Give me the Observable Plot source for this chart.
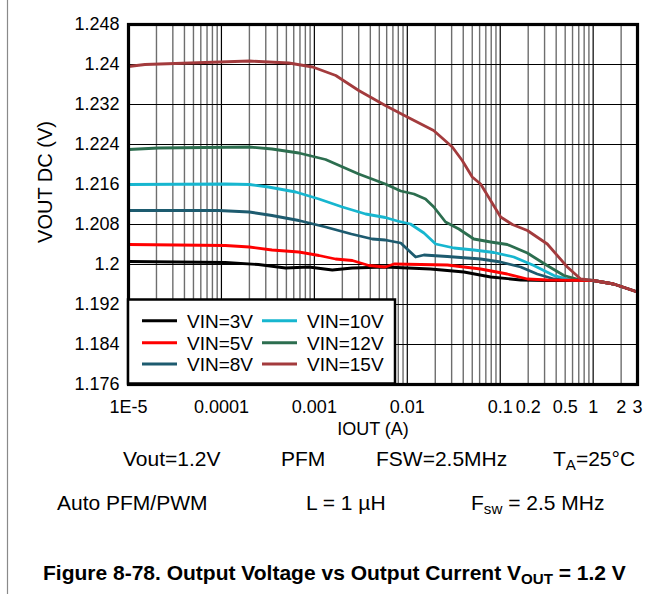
<!DOCTYPE html>
<html>
<head>
<meta charset="utf-8">
<script src="https://cdn.jsdelivr.net/npm/d3@7"></script>
<script src="https://cdn.jsdelivr.net/npm/@observablehq/plot@0.6"></script>
<style>
  html, body { margin: 0; padding: 0; background: #fff; }
  #wrap { position: relative; width: 663px; height: 594px; overflow: hidden; background: #fff;
          font-family: "Liberation Sans", Arial, Helvetica, sans-serif; }
  #wrap > svg.overlay { position: absolute; left: 0; top: 0; }
</style>
</head>
<body>
<div id="wrap"></div>
<script>
// ---------- data ----------
const seriesNames = ["VIN=3V", "VIN=5V", "VIN=8V", "VIN=10V", "VIN=12V", "VIN=15V"];
const seriesColors = ["#000000", "#ff0000", "#1d5b6f", "#17b6cf", "#2c6e4f", "#a33b3d"];

const vin3_iout = [1e-5, 1.1e-4, 2.5e-4, 4.9e-4, 8.7e-4, 1.56e-3, 2.56e-3, 5.8e-3, 0.0178, 0.0407, 0.079, 0.166, 0.32, 1.0, 1.66, 2.0, 3.0];
const vin3_vout = [1.2006, 1.2004, 1.2000, 1.1993, 1.1995, 1.1989, 1.1993, 1.1995, 1.1991, 1.1985, 1.1975, 1.1969, 1.1968, 1.1968, 1.1961, 1.1956, 1.1945];

const vin5_iout = [1e-5, 1.1e-4, 2e-4, 3.5e-4, 6.8e-4, 1.12e-3, 1.69e-3, 2.56e-3, 3.86e-3, 5.8e-3, 7.2e-3, 0.027, 0.0615, 0.119, 0.196, 0.32, 1.0, 1.66, 2.0, 3.0];
const vin5_vout = [1.2040, 1.2038, 1.2035, 1.2029, 1.2025, 1.2018, 1.2011, 1.2008, 1.1998, 1.1995, 1.2001, 1.1999, 1.1991, 1.1981, 1.1971, 1.1969, 1.1968, 1.1961, 1.1956, 1.1945];

const vin8_iout = [1e-5, 9.3e-5, 2e-4, 3.5e-4, 6.8e-4, 1.32e-3, 2.5e-3, 4.2e-3, 5.8e-3, 8.5e-3, 0.0123, 0.0151, 0.027, 0.0615, 0.101, 0.166, 0.25, 0.378, 0.6, 1.0, 1.66, 2.0, 3.0];
const vin8_vout = [1.2108, 1.2108, 1.2105, 1.2098, 1.2088, 1.2075, 1.2061, 1.2051, 1.2049, 1.2043, 1.2015, 1.2019, 1.2016, 1.2011, 1.2005, 1.1995, 1.1981, 1.1971, 1.1969, 1.1968, 1.1961, 1.1956, 1.1945];

const vin10_iout = [1e-5, 1.1e-4, 2e-4, 3.2e-4, 6.3e-4, 1.12e-3, 2.0e-3, 3.56e-3, 5.8e-3, 7.8e-3, 0.0108, 0.0151, 0.0202, 0.0318, 0.052, 0.0855, 0.14, 0.23, 0.378, 0.527, 1.0, 1.66, 2.0, 3.0];
const vin10_vout = [1.2160, 1.2161, 1.2160, 1.2155, 1.2145, 1.2131, 1.2115, 1.2101, 1.2094, 1.2087, 1.2081, 1.2063, 1.2041, 1.2033, 1.2029, 1.2024, 1.2015, 1.1998, 1.1978, 1.1971, 1.1968, 1.1961, 1.1956, 1.1945];

const vin12_iout = [1e-5, 2.1e-5, 2e-4, 3.5e-4, 6.8e-4, 1.32e-3, 3.0e-3, 5.8e-3, 8.5e-3, 0.0118, 0.0157, 0.0193, 0.0258, 0.0359, 0.052, 0.079, 0.119, 0.196, 0.32, 0.485, 0.73, 1.0, 1.66, 2.0, 3.0];
const vin12_vout = [1.2230, 1.2233, 1.2235, 1.2231, 1.2223, 1.2210, 1.2181, 1.2161, 1.2147, 1.2141, 1.2131, 1.2115, 1.2085, 1.2071, 1.2051, 1.2045, 1.2040, 1.2023, 1.1998, 1.1978, 1.1969, 1.1968, 1.1961, 1.1956, 1.1945];

const vin15_iout = [1e-5, 1.5e-5, 6.7e-5, 2e-4, 5.3e-4, 9.6e-4, 1.7e-3, 3.0e-3, 5.8e-3, 0.01, 0.0192, 0.0305, 0.039, 0.05, 0.0615, 0.101, 0.135, 0.196, 0.321, 0.527, 0.733, 1.0, 1.66, 2.0, 3.0];
const vin15_vout = [1.2396, 1.2400, 1.2404, 1.2407, 1.2403, 1.2395, 1.2378, 1.2348, 1.2318, 1.2295, 1.2268, 1.2235, 1.2208, 1.2175, 1.2161, 1.2095, 1.2080, 1.2068, 1.2041, 1.1995, 1.1971, 1.1968, 1.1961, 1.1956, 1.1945];

const xTickValues = [1e-5, 1e-4, 1e-3, 0.01, 0.1, 0.2, 0.5, 1, 2, 3];
const xTickLabels = ["1E-5", "0.0001", "0.001", "0.01", "0.1", "0.2", "0.5", "1", "2", "3"];
const yTickValues = [1.176, 1.184, 1.192, 1.2, 1.208, 1.216, 1.224, 1.232, 1.24, 1.248];
const yTickLabels = ["1.176", "1.184", "1.192", "1.2", "1.208", "1.216", "1.224", "1.232", "1.24", "1.248"];
const xMajorGrid = [1e-5, 1e-4, 1e-3, 0.01, 0.1, 1];

const xLabel = "IOUT (A)";
const yLabel = "VOUT DC (V)";

// ---------- build ----------
const allSeries = [
  [vin3_iout, vin3_vout], [vin5_iout, vin5_vout], [vin8_iout, vin8_vout],
  [vin10_iout, vin10_vout], [vin12_iout, vin12_vout], [vin15_iout, vin15_vout]
];
const rows = [];
allSeries.forEach(([xs, ys], k) => xs.forEach((x, i) => rows.push({series: seriesNames[k], iout: x, vout: ys[i]})));

// minor vertical grid lines (2..9 per decade, up to domain end)
const xMinorGrid = [];
for (let e = -5; e <= 0; e++) for (let m = 2; m <= 9; m++) {
  const v = m * Math.pow(10, e);
  if (v < 3) xMinorGrid.push(v);
}

const drawOrder = ["VIN=3V", "VIN=8V", "VIN=10V", "VIN=12V", "VIN=5V", "VIN=15V"];
const xTicks = xTickValues.map((v, i) => ({v, label: xTickLabels[i]}));
const yTicks = yTickValues.map((v, i) => ({v, label: yTickLabels[i]}));

const FONT = '"Liberation Sans", Arial, Helvetica, sans-serif';

const chart = Plot.plot({
  width: 663,
  height: 440,
  marginLeft: 128,
  marginRight: 26,
  marginTop: 24,
  marginBottom: 56,
  style: {fontFamily: FONT, fontSize: "18px", color: "#000", background: "transparent", overflow: "visible"},
  x: {type: "log", domain: [1e-5, 3], axis: null},
  y: {domain: [1.176, 1.248], axis: null},
  marks: [
    Plot.ruleX(xMinorGrid, {stroke: "#6e6e6e", strokeWidth: 1.4}),
    Plot.ruleX(xMajorGrid, {stroke: "#000", strokeWidth: 1.2}),
    Plot.ruleY(yTickValues, {stroke: "#000", strokeWidth: 1.2}),
    ...drawOrder.map(name => Plot.line(rows.filter(r => r.series === name), {
      x: "iout", y: "vout", stroke: seriesColors[seriesNames.indexOf(name)],
      strokeWidth: 2.8, curve: "linear", strokeLinejoin: "round"
    })),
    Plot.frame({stroke: "#000", strokeWidth: 3.2}),
    Plot.text(xTicks, {x: "v", text: "label", frameAnchor: "bottom", dy: 23, lineAnchor: "middle", fill: "#000", fontSize: 18}),
    Plot.text(yTicks, {y: "v", text: "label", frameAnchor: "left", dx: -9, textAnchor: "end", lineAnchor: "middle", fill: "#000", fontSize: 18})
  ]
});

const wrap = document.getElementById("wrap");
wrap.appendChild(chart);

// ---------- overlay: labels, legend, captions ----------
const NS = "http://www.w3.org/2000/svg";
const ov = document.createElementNS(NS, "svg");
ov.setAttribute("class", "overlay");
ov.setAttribute("width", 663);
ov.setAttribute("height", 594);
ov.setAttribute("font-family", FONT);
wrap.appendChild(ov);

function el(tag, attrs, parent = ov) {
  const e = document.createElementNS(NS, tag);
  for (const k in attrs) e.setAttribute(k, attrs[k]);
  parent.appendChild(e);
  return e;
}
function txt(str, attrs, parent = ov) {
  const t = el("text", attrs, parent);
  t.textContent = str;
  return t;
}
function richText(parts, attrs) {
  const t = el("text", attrs);
  parts.forEach(p => {
    const s = document.createElementNS(NS, "tspan");
    s.textContent = p.t;
    if (p.sub) { s.setAttribute("font-size", p.size || "0.72em"); s.setAttribute("dy", p.dy || "0.28em"); }
    if (p.back) { s.setAttribute("dy", p.back); }
    t.appendChild(s);
  });
  return t;
}

// page border line at left
el("line", {x1: 7.5, x2: 7.5, y1: 0, y2: 594, stroke: "#8a8a8a", "stroke-width": 1.2});

// axis labels
txt(yLabel, {transform: "translate(52,182) rotate(-90)", "text-anchor": "middle", "font-size": 20, fill: "#000"});
txt(xLabel, {x: 373, y: 434.5, "text-anchor": "middle", "font-size": 18, fill: "#000"});

// legend
el("rect", {x: 128, y: 299.5, width: 267, height: 84, fill: "#fff", stroke: "#000", "stroke-width": 2.5});
const legCols = [[142, 187], [262, 307]];
const legRows = [320.7, 342.7, 364];
seriesNames.forEach((name, i) => {
  const col = legCols[Math.floor(i / 3)];
  const ry = legRows[i % 3];
  el("line", {x1: col[0], x2: col[0] + 35, y1: ry, y2: ry, stroke: seriesColors[i], "stroke-width": 3});
  txt(name, {x: col[1], y: ry + 6.8, "font-size": 19, fill: "#000"});
});

// condition rows
const F = 21;
txt("Vout=1.2V", {x: 123, y: 465.5, "font-size": F});
txt("PFM", {x: 281, y: 465.5, "font-size": F});
txt("FSW=2.5MHz", {x: 376, y: 465.5, "font-size": F});
richText([{t: "T"}, {t: "A", sub: true}, {t: "=25°C", back: "-0.2em"}], {x: 553, y: 465.5, "font-size": F});

txt("Auto PFM/PWM", {x: 57, y: 510, "font-size": F});
txt("L = 1 µH", {x: 306, y: 510, "font-size": F});
richText([{t: "F"}, {t: "sw", sub: true}, {t: " = 2.5 MHz", back: "-0.2em"}], {x: 471, y: 510, "font-size": F});

// figure caption
richText([{t: "Figure 8-78. Output Voltage vs Output Current V"}, {t: "OUT", sub: true}, {t: " = 1.2 V", back: "-0.2em"}],
  {x: 43, y: 580, "font-size": 21, "font-weight": "bold"});
</script>
</body>
</html>
